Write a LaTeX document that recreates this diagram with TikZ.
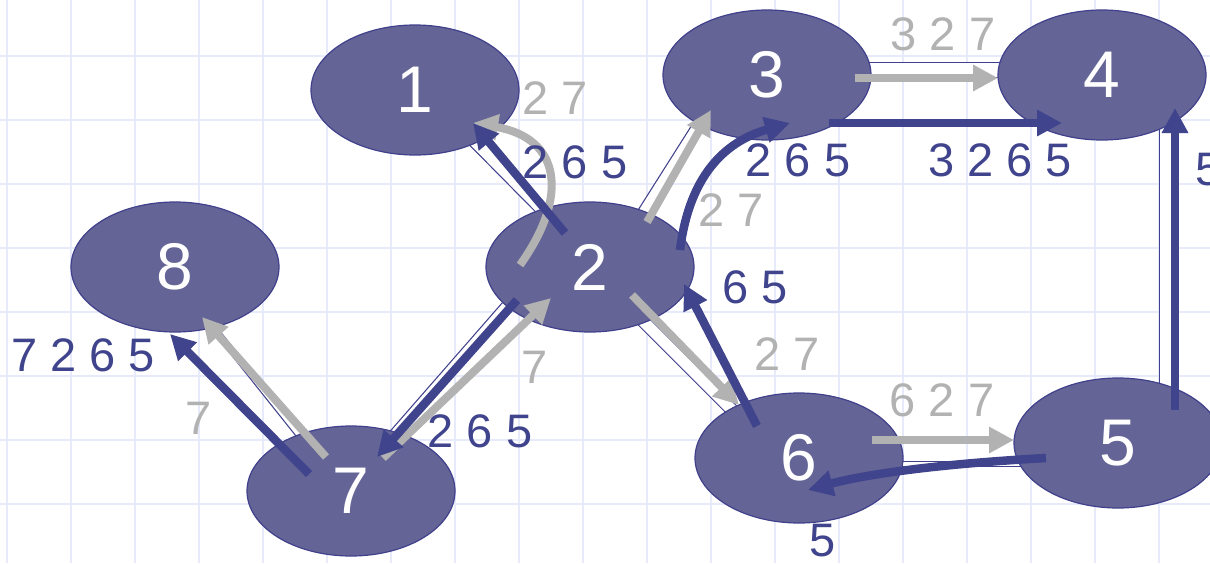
\documentclass[tikz,border=0pt]{standalone}
\usepackage{fontspec}
\setmainfont{Liberation Sans}
\usetikzlibrary{arrows.meta,shapes.geometric,calc}
\definecolor{gridc}{RGB}{230,234,250}
\definecolor{nodefill}{RGB}{100,100,150}
\definecolor{nodeline}{RGB}{64,64,140}
\definecolor{ablue}{RGB}{64,68,140}
\definecolor{agray}{RGB}{178,178,178}
\begin{document}
\begin{tikzpicture}[x=1pt,y=-1pt,
  vert/.style={ellipse, draw=nodeline, line width=1.2pt, fill=nodefill,
    minimum width=208pt, minimum height=130pt, inner sep=0pt, text=white,
    font=\fontsize{66}{70}\selectfont},
  link/.style={draw=nodeline, line width=1.2pt, double=white, double distance=#1},
  barrow/.style={draw=ablue, line width=8.5pt, -{Triangle[length=25pt,width=25pt]}},
  garrow/.style={draw=agray, line width=8pt, -{Triangle[length=25pt,width=25pt]}},
  blab/.style={text=ablue, font=\fontsize{47}{50}\selectfont, inner sep=0pt},
  glab/.style={text=agray, font=\fontsize{47}{50}\selectfont, inner sep=0pt}
]
\useasboundingbox (0,0) rectangle (1210,563);
\clip (0,0) rectangle (1210,563);
\fill[white] (0,0) rectangle (1210,563);
% grid
\foreach \i in {0,...,18} \draw[gridc, line width=2pt] (7+64*\i,0) -- (7+64*\i,563);
\foreach \j in {0,...,7} \draw[gridc, line width=2pt] (0,56+64*\j) -- (1210,56+64*\j);

% node positions
\coordinate (p1) at (415,90);
\coordinate (p2) at (590,267);
\coordinate (p3) at (767,75);
\coordinate (p4) at (1102,75);
\coordinate (p5) at (1118,443);
\coordinate (p6) at (799,458);
\coordinate (p7) at (351,491);
\coordinate (p8) at (175,267);

% links (behind the nodes)
\draw[link=11.5pt] ($(p1)+(4.6,-4.6)$) -- ($(p2)+(4.6,-4.6)$);
\draw[link=9.5pt] ($(p3)+(-42.4,8.5)$) -- ($(p2)+(24.6,-9.7)$);
\draw[link=14.5pt] ($(p3)+(33,-5)$) -- ($(p4)+(-52,-5)$);
\draw[link=12pt] ($(p4)+(64,25)$) -- ($(p5)+(48,-23)$);
\draw[link=4pt] ($(p6)+(51,6)$) -- ($(p5)+(-48,21)$);
\draw[link=11pt] ($(p2)+(10,11)$) -- ($(p6)+(-29,-10)$);
\draw[link=4.5pt] ($(p2)+(-42.1,-12)$) -- ($(p7)+(17,-30)$);
\draw[link=4.5pt] ($(p8)+(7,21.2)$) -- ($(p7)+(-32,-30.8)$);

% nodes
\node[vert] (n1) at (p1) {1};
\node[vert] (n2) at (p2) {2};
\node[vert] (n3) at (p3) {3};
\node[vert] (n4) at (p4) {4};
\node[vert] (n5) at (p5) {5};
\node[vert] (n6) at (p6) {6};
\node[vert] (n7) at (p7) {7};
\node[vert] (n8) at (p8) {8};

% gray arrows
\draw[garrow] ($(n2)+(-70,-2)$) .. controls (570,195) and (560,138) .. ($(n1)+(58,33)$);
\draw[garrow] ($(n2)+(57,-45)$) -- ($(n3)+(-56,35)$);
\draw[garrow] ($(n3)+(88,3)$) -- ($(n4)+(-104,3)$);
\draw[garrow] ($(n6)+(73,-18)$) -- ($(n5)+(-104,-3)$);
\draw[garrow] ($(n2)+(42,28)$) -- ($(n6)+(-60,-53)$);
\draw[garrow] ($(n7)+(32,-33)$) -- ($(n2)+(-39,31)$);
\draw[garrow] ($(n7)+(-25,-34)$) -- ($(n8)+(27,50)$);

% blue arrows
\draw[barrow] ($(n2)+(-25,-34)$) -- ($(n1)+(58,33)$);
\draw[barrow] ($(n2)+(90,-17)$) .. controls (690,170) and (730,140) .. ($(n3)+(23,48)$);
\draw[barrow] ($(n3)+(62,48)$) -- ($(n4)+(-40,48)$);
\draw[barrow] ($(n5)+(57,-33)$) -- ($(n4)+(73,33)$);
\draw[barrow] ($(n5)+(-72,15)$) .. controls (920,465) and (855,477) .. ($(n6)+(9,32)$);
\draw[barrow] ($(n6)+(-42,-32)$) -- ($(n2)+(94,17)$);
\draw[barrow] ($(n2)+(-73,33)$) -- ($(n7)+(26,-34)$);
\draw[barrow] ($(n7)+(-42,-17)$) -- ($(n8)+(-5,67)$);

% labels
\node[glab] (t1) at (555,98) {2 7};
\node[blab] (t2) at (575,162) {2 6 5};
\node[glab] (t3) at (731,210) {2 7};
\node[blab] (t4) at (798,160) {2 6 5};
\node[glab] (t5) at (943,34) {3 2 7};
\node[blab] (t6) at (1000,160) {3 2 6 5};
\node[blab, anchor=west] (t7) at (1195,170) {5};
\node[blab] (t8) at (755,287) {6 5};
\node[glab] (t9) at (787,354) {2 7};
\node[glab] (t10) at (942,400) {6 2 7};
\node[blab] (t11) at (823,541) {5};
\node[blab] (t12) at (83,355) {7 2 6 5};
\node[glab] (t13) at (199,418) {7};
\node[glab] (t14) at (535,367) {7};
\node[blab] (t15) at (480,431) {2 6 5};
\end{tikzpicture}
\end{document}
